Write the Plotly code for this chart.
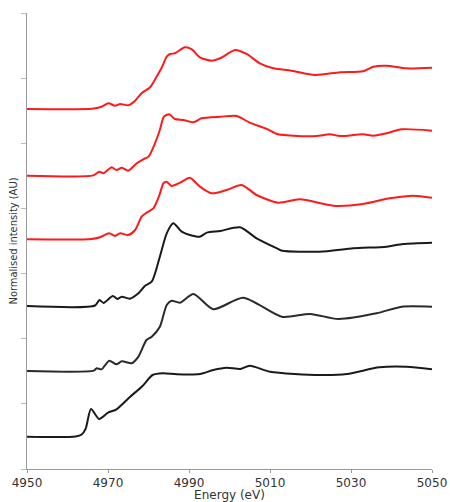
import plotly.graph_objects as go

# Energy (eV) and normalised intensity (AU), bottom to top
e6 = [4950, 4962, 4963.5, 4964.5, 4965.8, 4967.8, 4970, 4972.1, 4975.4, 4978.6, 4981, 4983.6, 4987,
      4992.7, 4996, 4999.3, 5002.7, 5005, 5010, 5022.3, 5029, 5037, 5043.7, 5050]
s6 = [0.496, 0.500, 0.53, 0.62, 0.921, 0.768, 0.864, 0.916, 1.105, 1.279, 1.443, 1.469, 1.454,
      1.458, 1.520, 1.555, 1.535, 1.586, 1.494, 1.443, 1.458, 1.561, 1.570, 1.531]

e5 = [4950, 4966.5, 4967.2, 4968.4, 4970.3, 4972.1, 4973.4, 4975.9, 4977.5, 4979.5, 4980.8, 4982.8,
      4984.5, 4985.7, 4987.8, 4991.1, 4996, 5003.4, 5012.9, 5019.9, 5026.9, 5036.3, 5042.5, 5050]
s5 = [1.504, 1.510, 1.546, 1.530, 1.663, 1.607, 1.653, 1.623, 1.724, 1.980, 2.031, 2.185,
      2.518, 2.584, 2.553, 2.687, 2.452, 2.630, 2.338, 2.380, 2.303, 2.390, 2.492, 2.492]

e4 = [4950, 4966.8, 4967.9, 4968.9, 4971.2, 4972.3, 4973.4, 4975.4, 4977.5, 4979.1, 4980.8, 4982.8,
      4984.5, 4986.1, 4988.2, 4990.2, 4992.7, 4994.4, 4997.7, 5002.6, 5006.7, 5011.7, 5013, 5022.3,
      5030.6, 5038.8, 5042.9, 5050]
s4 = [2.502, 2.510, 2.594, 2.550, 2.656, 2.610, 2.645, 2.614, 2.697, 2.809, 2.875, 3.259,
      3.618, 3.772, 3.643, 3.592, 3.566, 3.628, 3.654, 3.710, 3.542, 3.388, 3.351, 3.336,
      3.388, 3.413, 3.454, 3.474]

e3 = [4950, 4966, 4968, 4970.3, 4971.7, 4973, 4975, 4976.7, 4978.3, 4979.5, 4981.2, 4982.7, 4983.7,
      4984.5, 4985.7, 4987.8, 4990.2, 4992.7, 4995.6, 4999.3, 5003, 5006.7, 5012, 5017.4, 5025.6,
      5033, 5039.6, 5045.4, 5050]
s3 = [3.526, 3.530, 3.557, 3.618, 3.577, 3.618, 3.592, 3.669, 3.873, 3.935, 4.002, 4.206, 4.386,
      4.411, 4.345, 4.395, 4.472, 4.334, 4.232, 4.283, 4.360, 4.206, 4.088, 4.140, 4.042,
      4.068, 4.156, 4.196, 4.165]

e2 = [4950, 4966.4, 4967.8, 4968.9, 4970.9, 4972.1, 4973.4, 4975, 4977.1, 4978.7, 4980, 4981.6,
      4982.8, 4983.8, 4985.1, 4986.5, 4988.6, 4991.1, 4993.1, 4997.7, 5001.8, 5005, 5009.2, 5011.7,
      5015.8, 5021.5, 5024.8, 5027.3, 5033, 5035.5, 5038.8, 5042.5, 5050]
s2 = [4.503, 4.508, 4.564, 4.539, 4.632, 4.590, 4.626, 4.579, 4.693, 4.754, 4.795, 5.000,
      5.204, 5.408, 5.445, 5.373, 5.358, 5.322, 5.384, 5.408, 5.419, 5.317, 5.220, 5.143,
      5.117, 5.112, 5.138, 5.112, 5.138, 5.117, 5.153, 5.215, 5.194]

e1 = [4950, 4966, 4968.4, 4970.1, 4971.7, 4973, 4975, 4976.7, 4978.3, 4980.4, 4982, 4983.3, 4984.5,
      4985.3, 4986.5, 4989, 4990.7, 4992.7, 4995.6, 4997.7, 5001.4, 5004.2, 5007.5, 5010.8, 5015.3,
      5021.1, 5027.3, 5033, 5035.5, 5038.8, 5043.7, 5050]
s1 = [5.527, 5.530, 5.560, 5.614, 5.578, 5.603, 5.583, 5.654, 5.768, 5.860, 6.023, 6.167, 6.330,
      6.371, 6.382, 6.474, 6.443, 6.320, 6.268, 6.305, 6.432, 6.371, 6.228, 6.151, 6.115,
      6.049, 6.090, 6.105, 6.176, 6.191, 6.151, 6.161]

x_ticks = [4950, 4970, 4990, 5010, 5030, 5050]

series = [(e6, s6, "#1a1a1a"), (e5, s5, "#2a2a2a"), (e4, s4, "#1a1a1a"),
          (e3, s3, "#ff1a1a"), (e2, s2, "#ff1a1a"), (e1, s1, "#ff1a1a")]

fig = go.Figure()
for e, s, c in series:
    fig.add_trace(go.Scatter(x=e, y=s, mode="lines",
                             line=dict(color=c, width=2, shape="spline", smoothing=0.7),
                             showlegend=False, hoverinfo="skip"))

fig.update_layout(
    width=450, height=502,
    margin=dict(l=27, r=18, t=13, b=33, autoexpand=False),
    paper_bgcolor="white", plot_bgcolor="white",
    font=dict(family="DejaVu Sans", color="#333"),
)
fig.update_xaxes(range=[4950, 5050], tickvals=x_ticks, ticktext=[str(v) for v in x_ticks],
                 automargin=False,
                 showgrid=False, zeroline=False, showline=True, linecolor="#999", linewidth=1,
                 ticks="outside", ticklen=3, tickcolor="#999",
                 tickfont=dict(size=12, color="#333"),
                 title=dict(text="Energy (eV)", font=dict(size=12, color="#333"), standoff=2))
fig.update_yaxes(range=[0, 7], dtick=1, showticklabels=False, automargin=False,
                 showgrid=False, zeroline=False, showline=True, linecolor="#999", linewidth=1,
                 ticks="outside", ticklen=5, tickcolor="#bbb",
                 title=dict(text="Normalised intensity (AU)",
                            font=dict(family="Liberation Sans Narrow, DejaVu Sans Condensed, sans-serif",
                                      size=11, color="#333"), standoff=1))

fig.write_html("out.html", config={"displayModeBar": False},
               post_script="document.body.style.margin='0';document.body.style.overflow='hidden';")
